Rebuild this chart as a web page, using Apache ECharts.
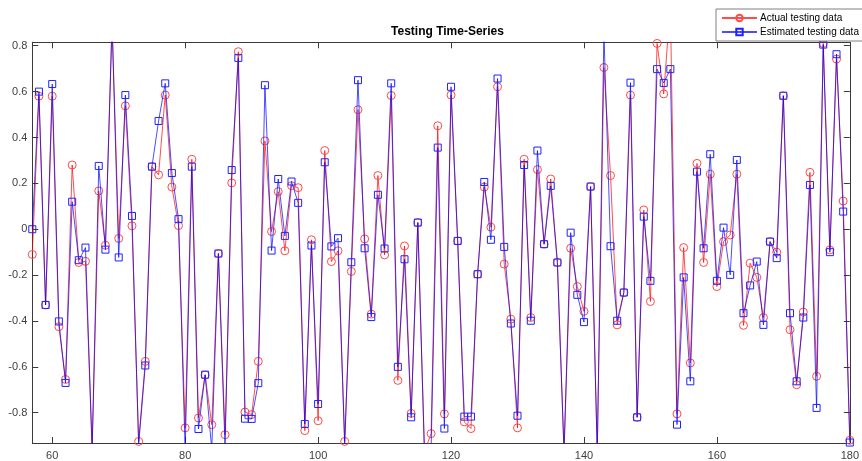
<!DOCTYPE html>
<html>
<head>
<meta charset="utf-8">
<script src="https://cdn.jsdelivr.net/npm/echarts@6/dist/echarts.min.js"></script>
<style>
html,body{margin:0;padding:0;background:#fff;}
#chart{width:862px;height:461px;}
</style>
</head>
<body>
<div id="chart"></div>
<script>
const xStart = 57;
const actual = [
 -0.11, 0.58, -0.33, 0.58, -0.425, -0.655, 0.28, -0.145, -0.14, -0.96,
 0.167, -0.07, 0.9, -0.04, 0.538, 0.015, -0.925, -0.576, 0.273, 0.237,
 0.585, 0.184, 0.016, -0.866, 0.305, -0.823, -0.636, -0.852, -0.106, -0.896,
 0.202, 0.774, -0.797, -0.808, -0.576, 0.385, -0.01, 0.164, -0.094, 0.19,
 0.181, -0.878, -0.046, -0.835, 0.343, -0.141, -0.094, -0.925, -0.184, 0.521,
 -0.042, -0.37, 0.234, -0.112, 0.583, -0.659, -0.073, -0.803, 0.029, -0.97,
 -0.891, 0.451, -0.805, 0.585, -0.051, -0.84, -0.869, -0.196, 0.184, 0.009,
 0.621, -0.152, -0.392, -0.866, 0.305, -0.385, 0.26, -0.065, 0.219, -0.145,
 -0.97, -0.083, -0.25, -0.358, 0.186, -0.97, 0.705, 0.234, -0.417, -0.276,
 0.585, -0.82, 0.084, -0.315, 0.81, 0.59, 0.98, -0.805, -0.08, -0.583,
 0.287, -0.145, 0.24, -0.25, -0.054, -0.025, 0.24, -0.419, -0.148, -0.21,
 -0.385, -0.054, -0.1, 0.582, -0.438, -0.678, -0.361, 0.248, -0.641, 0.81,
 -0.09, 0.742, 0.123, -0.92
];
const estimated = [
 0.0, 0.6, -0.33, 0.633, -0.402, -0.67, 0.12, -0.135, -0.08, -0.96,
 0.276, -0.089, 0.9, -0.123, 0.585, 0.058, -0.94, -0.594, 0.273, 0.472,
 0.636, 0.245, 0.044, -0.97, 0.273, -0.871, -0.634, -0.96, -0.106, -0.95,
 0.258, 0.747, -0.826, -0.827, -0.671, 0.628, -0.093, 0.219, -0.029, 0.208,
 0.115, -0.849, -0.071, -0.762, 0.292, -0.075, -0.039, -0.94, -0.144, 0.65,
 -0.083, -0.383, 0.15, -0.084, 0.636, -0.6, -0.131, -0.82, 0.029, -0.97,
 -0.96, 0.356, -0.869, 0.621, -0.051, -0.817, -0.817, -0.196, 0.206, -0.046,
 0.657, -0.077, -0.411, -0.813, 0.28, -0.399, 0.343, -0.065, 0.189, -0.145,
 -0.97, -0.015, -0.286, -0.405, 0.186, -0.97, 0.86, -0.074, -0.399, -0.276,
 0.639, -0.82, 0.055, -0.225, 0.698, 0.638, 0.698, -0.852, -0.21, -0.663,
 0.251, -0.083, 0.327, -0.225, 0.007, -0.199, 0.302, -0.366, -0.245, -0.141,
 -0.417, -0.054, -0.126, 0.582, -0.366, -0.663, -0.385, 0.193, -0.779, 0.805,
 -0.1, 0.763, 0.077, -0.93
];
const seriesNames = ['Actual testing data', 'Estimated testing data'];
const titleText = 'Testing Time-Series';

const toPairs = arr => arr.map((v, i) => [xStart + i, v]);

const FONT = '"Liberation Sans", Arial, Helvetica, sans-serif';
const axisColor = '#3a3a3a';
const X_MIN = 57, X_MAX = 180, Y_MIN = -0.932, Y_MAX = 0.815;

const chart = echarts.init(document.getElementById('chart'), null, {renderer: 'canvas'});

function xAx(pos, showLabel) {
  return {
    type: 'value', position: pos, min: X_MIN, max: X_MAX,
    minInterval: 20, maxInterval: 20, splitNumber: 6,
    axisLine: {show: true, onZero: false, lineStyle: {color: axisColor, width: 1}},
    axisTick: {show: true, inside: true, length: 6, lineStyle: {color: axisColor}},
    splitLine: {show: false},
    axisLabel: {show: showLabel, showMinLabel: false, margin: 7, color: '#404040', fontSize: 11, fontFamily: FONT}
  };
}
function yAx(pos, showLabel) {
  return {
    type: 'value', position: pos, min: Y_MIN, max: Y_MAX,
    minInterval: 0.2, maxInterval: 0.2, splitNumber: 9,
    axisLine: {show: true, onZero: false, lineStyle: {color: axisColor, width: 1}},
    axisTick: {show: true, inside: true, length: 6, lineStyle: {color: axisColor}},
    splitLine: {show: false},
    axisLabel: {show: showLabel, showMinLabel: false, showMaxLabel: false, margin: 5, color: '#404040', fontSize: 11, fontFamily: FONT,
      formatter: v => (Math.round(v * 10) / 10).toString()}
  };
}

chart.setOption({
  animation: false,
  backgroundColor: '#ffffff',
  grid: {left: 32.3, right: 4.5, top: 42.3, bottom: 17.7, containLabel: false},
  graphic: [{
    type: 'text', x: 447.5, y: 32,
    style: {text: titleText, font: 'bold 12px ' + FONT, fill: '#000', align: 'center', verticalAlign: 'middle'}
  }],
  legend: {
    orient: 'vertical', left: 716, top: 9,
    padding: [4, 30, 4, 5], itemGap: 4, itemWidth: 35, itemHeight: 8,
    backgroundColor: '#ffffff', borderColor: '#808080', borderWidth: 1,
    textStyle: {fontSize: 10, fontFamily: FONT, color: '#000', padding: [0, 0, 0, -2]},
    data: seriesNames
  },
  xAxis: [xAx('bottom', true), xAx('top', false)],
  yAxis: [yAx('left', true), yAx('right', false)],
  series: [
    {
      name: seriesNames[0], type: 'line', data: toPairs(actual),
      xAxisIndex: 0, yAxisIndex: 0, clip: true,
      symbol: 'circle', symbolSize: 8, showAllSymbol: true,
      lineStyle: {color: '#ff0000', width: 1, opacity: 0.7},
      itemStyle: {color: 'rgba(255,255,255,0)', borderColor: '#ff4a4a', borderWidth: 1},
      emphasis: {disabled: true}, z: 2
    },
    {
      name: seriesNames[1], type: 'line', data: toPairs(estimated),
      xAxisIndex: 0, yAxisIndex: 0, clip: true,
      symbol: 'rect', symbolSize: 7, showAllSymbol: true,
      lineStyle: {color: '#0000ff', width: 1, opacity: 0.7},
      itemStyle: {color: 'rgba(255,255,255,0)', borderColor: '#2020ff', borderWidth: 1},
      emphasis: {disabled: true}, z: 3
    }
  ]
});
</script>
</body>
</html>
